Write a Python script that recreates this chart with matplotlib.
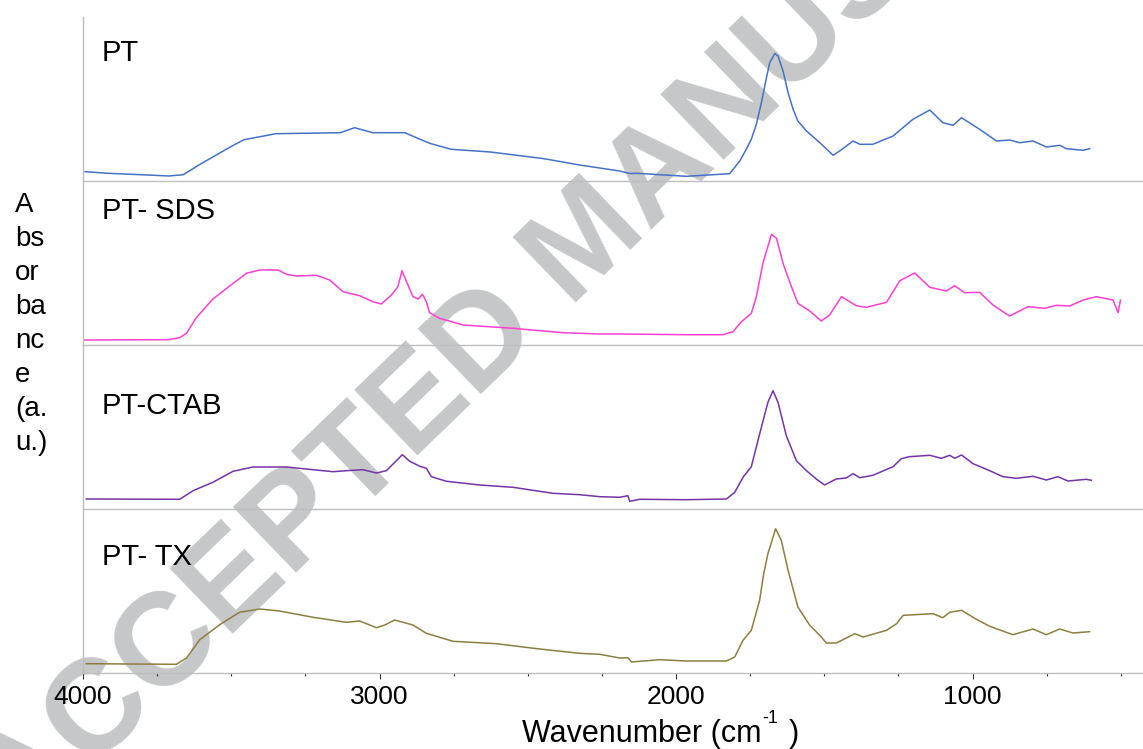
import matplotlib
matplotlib.use('Agg')
import matplotlib.pyplot as plt
from matplotlib.ticker import FixedLocator, MultipleLocator

plt.rcParams['font.family'] = ['Liberation Sans', 'DejaVu Sans']

# ---------------- data (absorbance in arbitrary units) ----------------
pt_wn = [3993, 3915, 3782, 3710, 3662, 3602, 3493, 3457, 3349, 3132, 3084, 3023, 2915, 2831,
         2758, 2626, 2445, 2325, 2190, 2156, 2133, 1965, 1819, 1785, 1763, 1746, 1729, 1712,
         1695, 1684, 1667, 1656, 1639, 1622, 1605, 1589, 1560, 1515, 1470, 1448, 1403, 1380,
         1336, 1268, 1201, 1144, 1100, 1066, 1037, 976, 919, 875, 841, 796, 751, 706, 683,
         627, 605]
pt_abs = [9.3, 7.7, 6.0, 5.0, 6.3, 17.3, 35.7, 41.3, 47.3, 48.3, 53.3, 48.3, 48.3, 37.7,
          31.7, 29.0, 22.3, 16.0, 10.0, 7.5, 7.7, 4.7, 7.3, 20.0, 31.7, 41.7, 56.7, 78.3,
          103.3, 118.3, 127.5, 125.0, 110.0, 88.3, 71.7, 60.0, 50.0, 38.3, 25.7, 30.0, 40.0, 36.7,
          36.7, 45.0, 61.7, 71.0, 58.3, 55.7, 63.3, 51.7, 40.0, 41.0, 38.3, 40.0, 34.0, 35.7, 32.3,
          30.7, 32.3]

sds_wn = [3994, 3713, 3674, 3651, 3618, 3562, 3505, 3449, 3404, 3342, 3314, 3280, 3213, 3168,
          3123, 3067, 3022, 2994, 2960, 2938, 2924, 2909, 2887, 2870, 2855, 2842, 2831, 2797,
          2718, 2550, 2381, 2257, 2190, 1965, 1842, 1808, 1779, 1746, 1729, 1707, 1678, 1661,
          1639, 1617, 1589, 1549, 1510, 1482, 1442, 1392, 1358, 1290, 1245, 1195, 1144, 1088,
          1060, 1027, 976, 931, 875, 813, 757, 717, 672, 627, 582, 526, 509, 501]
sds_abs = [5.0, 5.3, 7.3, 11.7, 27.3, 46.0, 59.0, 71.7, 75.0, 75.0, 70.7, 69.0, 69.7, 65.0,
           53.3, 49.3, 43.3, 41.0, 50.0, 58.3, 74.3, 63.3, 48.3, 46.0, 50.7, 43.3, 32.3, 26.7,
           20.0, 16.7, 12.3, 11.0, 11.0, 10.3, 10.3, 13.3, 23.3, 31.7, 48.3, 81.7, 110.7, 106.7,
           81.7, 63.3, 41.7, 34.0, 24.0, 30.0, 48.3, 39.3, 37.7, 42.7, 64.3, 72.0, 57.7, 54.0,
           59.3, 52.3, 52.7, 40.0, 29.0, 38.3, 36.7, 39.7, 39.0, 45.0, 48.3, 45.0, 32.3, 45.0]

ctab_wn = [3989, 3674, 3629, 3562, 3494, 3427, 3314, 3224, 3157, 3112, 3056, 3010, 2977, 2943,
           2923, 2898, 2864, 2842, 2825, 2774, 2662, 2550, 2415, 2325, 2257, 2190, 2162, 2156,
           2123, 1965, 1830, 1802, 1774, 1746, 1718, 1690, 1673, 1656, 1628, 1594, 1560, 1527,
           1499, 1460, 1426, 1403, 1380, 1336, 1268, 1240, 1213, 1144, 1105, 1077, 1060, 1037,
           998, 942, 897, 852, 796, 751, 712, 678, 616, 599]
ctab_abs = [10.0, 9.7, 18.3, 26.7, 37.7, 42.0, 42.0, 39.3, 37.3, 38.3, 39.3, 36.0, 38.3, 48.3,
            54.3, 47.7, 42.7, 40.7, 32.3, 27.7, 24.0, 21.7, 15.7, 14.3, 12.3, 11.7, 13.3, 7.7,
            9.7, 9.3, 10.0, 16.7, 31.7, 42.3, 75.0, 106.7, 118.3, 106.7, 73.3, 48.3, 38.3, 30.0,
            24.0, 30.0, 31.0, 35.3, 31.3, 33.7, 42.3, 50.3, 52.3, 53.7, 50.7, 53.7, 50.7, 54.0,
            45.3, 38.3, 32.3, 30.7, 32.7, 29.0, 32.3, 28.0, 29.7, 28.7]

tx_wn = [3989, 3685, 3651, 3606, 3539, 3472, 3404, 3337, 3224, 3112, 3067, 3010, 2982, 2949,
         2887, 2842, 2752, 2606, 2460, 2325, 2257, 2190, 2162, 2150, 2056, 1965, 1830, 1802,
         1774, 1746, 1718, 1704, 1690, 1664, 1645, 1622, 1589, 1549, 1515, 1493, 1459, 1397,
         1369, 1290, 1256, 1234, 1133, 1100, 1077, 1037, 987, 942, 864, 796, 751, 706, 661, 605]
tx_abs = [9.3, 8.7, 15.0, 33.3, 48.3, 60.7, 64.0, 62.0, 55.7, 50.7, 52.0, 45.3, 48.0, 53.0,
          48.0, 39.7, 31.7, 29.3, 24.0, 19.7, 18.7, 15.0, 15.3, 11.0, 13.3, 12.0, 12.0, 16.0,
          32.7, 42.7, 72.7, 99.7, 119.3, 144.3, 132.7, 102.7, 66.0, 47.7, 37.7, 30.0, 30.0, 39.3,
          36.0, 42.7, 49.3, 57.7, 59.3, 55.3, 60.7, 62.7, 53.7, 46.7, 38.3, 44.0, 38.3, 44.0, 40.0, 41.3]

labels = ['PT', 'PT- SDS', 'PT-CTAB', 'PT- TX']
colors = ['#4472C4', '#FF3FCF', '#7434A8', '#8C7E40']
xticks_major = [4000, 3000, 2000, 1000]
xtick_labels = ['4000', '3000', '2000', '1000']
series = [(pt_wn, pt_abs), (sds_wn, sds_abs), (ctab_wn, ctab_abs), (tx_wn, tx_abs)]

# ---------------- figure ----------------
W, H = 1143, 749
fig = plt.figure(figsize=(W / 100, H / 100), dpi=100)
gs = fig.add_gridspec(4, 1, left=83 / W, right=1.0, top=1 - 17 / H, bottom=1 - 673 / H, hspace=0)

grey = '#BEBEBE'
label_baselines = [60.7, 219, 414, 565]

for i, ((wn, ab), lab, col) in enumerate(zip(series, labels, colors)):
    ax = fig.add_subplot(gs[i])
    ax.set_facecolor('none')
    ax.plot(wn, ab, color=col, lw=1.1)
    ax.set_xlim(4000, 425)
    ax.set_ylim(0, 164)
    for s in ['top', 'right']:
        ax.spines[s].set_visible(False)
    for s in ['left', 'bottom']:
        ax.spines[s].set_color(grey)
        ax.spines[s].set_linewidth(1.0)
    ax.set_yticks([])
    if i < 3:
        ax.set_xticks([])
    else:
        ax.xaxis.set_major_locator(FixedLocator(xticks_major))
        ax.set_xticklabels(xtick_labels)
        ax.xaxis.set_minor_locator(MultipleLocator(250))
        ax.tick_params(axis='x', which='major', direction='out', length=4, width=0.8,
                       color='#333333', labelsize=19, pad=5)
        ax.tick_params(axis='x', which='minor', direction='out', length=2.5, width=0.8,
                       color='#333333')
    fig.text(101.5 / W, 1 - label_baselines[i] / H, lab, fontsize=21, va='baseline', ha='left')

# x axis label: "Wavenumber (cm" + superscript "-1" + " )"
base_y = 1 - 742 / H
fig.text(522 / W, base_y, 'Wavenumber (cm', fontsize=22, ha='left', va='baseline')
fig.text(762 / W, 1 - 723 / H, '-1', fontsize=13, ha='left', va='baseline')
fig.text(789 / W, base_y, ')', fontsize=22, ha='left', va='baseline')

# y axis label (wrapped as in the original)
fig.text(15 / W, 1 - 192 / H, 'A\nbs\nor\nba\nnc\ne\n(a.\nu.)', fontsize=20, ha='left',
         va='top', linespacing=1.4, multialignment='left')

# watermark
fig.text(588 / W, 1 - 243 / H, 'ACCEPTED MANUSCRIPT', rotation=44, rotation_mode='anchor',
         ha='center', va='center', fontsize=95, fontweight='bold', color='#C6C7C9', zorder=-1)

fig.savefig('out.png', dpi=100)
